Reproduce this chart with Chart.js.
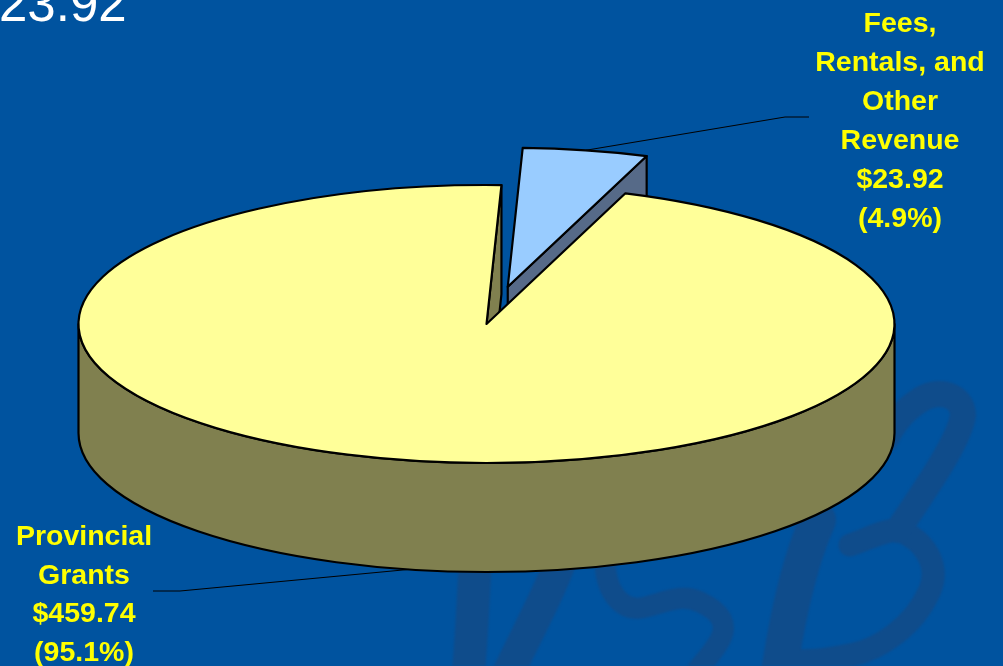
<!DOCTYPE html>
<html>
<head>
<meta charset="utf-8">
<title>Revenue</title>
<script src="https://cdn.jsdelivr.net/npm/chart.js@4"></script>
<style>
    html, body { margin: 0; padding: 0; background: #00539f; overflow: hidden; }
    #wrap { position: relative; width: 1003px; height: 666px; overflow: hidden; }
    #logo { position: absolute; left: 0; top: 0; filter: blur(1px); }
    #chart { position: absolute; left: 0; top: 0; }
</style>
</head>
<body>
<div id="wrap">
    <!-- faded VSB logo behind the chart -->
    <svg id="logo" width="1003" height="666" fill="none" stroke="#0f4c8b" stroke-linecap="round" stroke-linejoin="round">
        <path stroke-width="33" d="M476 540 C474 590 472 630 468 680"/>
        <path stroke-width="32" d="M568 540 C552 590 528 630 505 680"/>
        <path stroke-width="21" d="M605 560 C605 590 620 610 640 608 C660 605 680 592 700 602 C722 612 728 625 720 640 C712 655 700 665 690 680"/>
        <path stroke-width="36" d="M818 520 C800 560 788 610 778 680"/>
        <path stroke-width="23" d="M850 545 C870 538 885 530 898 530 C925 540 940 565 930 590 C915 625 880 650 850 655 C825 660 805 662 790 660"/>
        <path stroke-width="26" d="M898 530 C925 490 960 440 963 415 C962 395 940 388 920 400 C905 410 895 420 885 440"/>
    </svg>
    <canvas id="chart" width="1003" height="666"></canvas>
</div>
<script>
const categories = ["Fees, Rentals, and Other Revenue", "Provincial Grants"]
const amounts = [23.92, 459.74]
const amountLabels = ["$23.92", "$459.74"]
const percentLabels = ["(4.9%)", "(95.1%)"]
const feesLabelLines = ["Fees,", "Rentals, and", "Other", "Revenue"]
const grantsLabelLines = ["Provincial", "Grants"]
const sliceColors = ["#99ccff", "#ffff99"]
const wallColors = ["#566a88", "#80804f"]

const centerX = 486.5
const centerY = 324
const radiusX = 408
const radiusY = 139
const depth = 109
const explode = 0.273

function outline(ctx) {
    ctx.strokeStyle = "#000"
    ctx.lineWidth = 2.2
    ctx.lineJoin = "round"
    ctx.stroke()
}

function drawFace(ctx, x, y, angle, color) {
    // flat wall going down from the cut edge of a slice
    const ex = x + radiusX * Math.cos(angle)
    const ey = y + radiusY * Math.sin(angle)
    ctx.beginPath()
    ctx.moveTo(x, y)
    ctx.lineTo(ex, ey)
    ctx.lineTo(ex, ey + depth)
    ctx.lineTo(x, y + depth)
    ctx.closePath()
    ctx.fillStyle = color
    ctx.fill()
    outline(ctx)
}

function drawTop(ctx, el, x, y) {
    // squash the round arc into the tilted ellipse
    ctx.save()
    ctx.translate(x, y)
    ctx.scale(radiusX / el.outerRadius, radiusY / el.outerRadius)
    ctx.translate(-el.x, -el.y)
    el.draw(ctx)
    ctx.restore()

    ctx.beginPath()
    ctx.moveTo(x, y)
    ctx.ellipse(x, y, radiusX, radiusY, 0, el.startAngle, el.endAngle)
    ctx.closePath()
    outline(ctx)
}

const pie3d = {
    id: "pie3d",
    beforeDatasetDraw(chart) {
        const ctx = chart.ctx
        const arcs = chart.getDatasetMeta(0).data
        const fees = arcs[0]
        const grants = arcs[1]

        const mid = (fees.startAngle + fees.endAngle) / 2
        const feesX = centerX + radiusX * explode * Math.cos(mid)
        const feesY = centerY + radiusY * explode * Math.sin(mid)

        drawFace(ctx, feesX, feesY, fees.endAngle, wallColors[0])
        drawTop(ctx, fees, feesX, feesY)

        drawFace(ctx, centerX, centerY, grants.endAngle, wallColors[1])

        ctx.beginPath()
        ctx.ellipse(centerX, centerY, radiusX, radiusY, 0, 0, Math.PI)
        ctx.ellipse(centerX, centerY + depth, radiusX, radiusY, 0, Math.PI, 0, true)
        ctx.closePath()
        ctx.fillStyle = wallColors[1]
        ctx.fill()
        outline(ctx)

        drawTop(ctx, grants, centerX, centerY)

        // leader lines start from the middle of each slice
        const grantsMid = (grants.startAngle + grants.endAngle) / 2
        ctx.strokeStyle = "#000"
        ctx.lineWidth = 1
        ctx.beginPath()
        ctx.moveTo(feesX + radiusX * Math.cos(mid), feesY + radiusY * Math.sin(mid))
        ctx.lineTo(785, 117)
        ctx.lineTo(809, 117)
        ctx.moveTo(centerX + radiusX * Math.cos(grantsMid), centerY + radiusY * Math.sin(grantsMid) + depth)
        ctx.lineTo(180, 591)
        ctx.lineTo(153, 591)
        ctx.stroke()

        return false
    },
    afterDraw(chart) {
        const ctx = chart.ctx
        ctx.save()
        ctx.textBaseline = "alphabetic"

        ctx.fillStyle = "#fff"
        ctx.font = "51px 'Liberation Sans'"
        ctx.textAlign = "left"
        ctx.fillText(String(amounts[0]), -1, 21)

        ctx.fillStyle = "#ffff00"
        ctx.font = "bold 28.5px 'Liberation Sans'"
        ctx.textAlign = "center"

        const feesText = feesLabelLines.concat(amountLabels[0], percentLabels[0])
        feesText.forEach((t, i) => ctx.fillText(t, 900, 32 + i * 39))

        const grantsText = grantsLabelLines.concat(amountLabels[1], percentLabels[1])
        grantsText.forEach((t, i) => ctx.fillText(t, 84, 545 + i * 38.7))

        ctx.restore()
    }
}

new Chart(document.getElementById("chart").getContext("2d"), {
    type: "pie",
    data: {
        labels: categories,
        datasets: [{
            data: amounts,
            backgroundColor: sliceColors,
            borderWidth: 0
        }]
    },
    options: {
        responsive: false,
        animation: false,
        rotation: 2.1,
        plugins: {
            legend: { display: false },
            tooltip: { enabled: false }
        }
    },
    plugins: [pie3d]
})
</script>
</body>
</html>
